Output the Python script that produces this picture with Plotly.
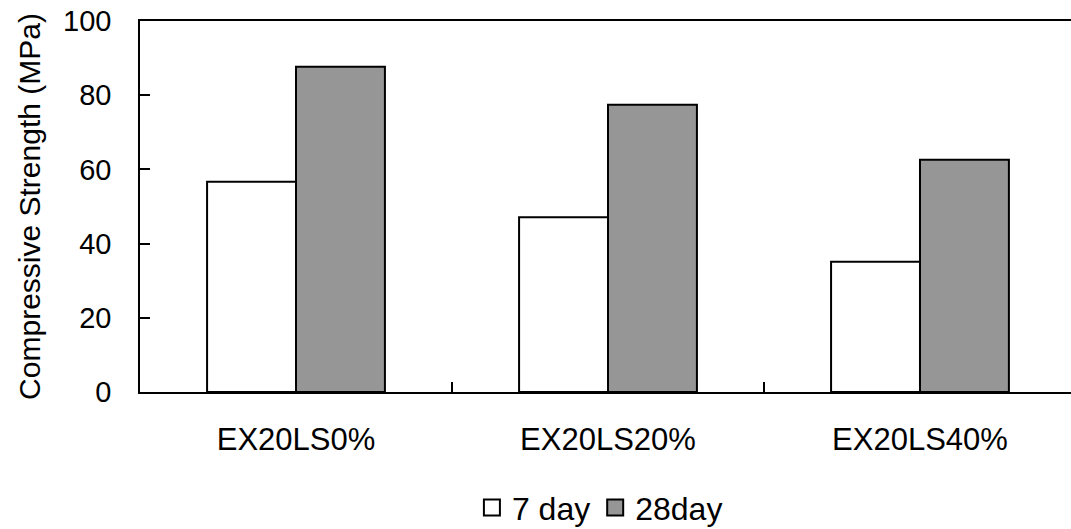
import plotly.graph_objects as go

# Compressive strength of the three mixes at two curing ages
mixes = ["EX20LS0%", "EX20LS20%", "EX20LS40%"]
day7 = [56.7, 47.1, 35.1]
day28 = [87.7, 77.4, 62.6]
series_names = ["7 day", "28day"]
series_fill = ["#ffffff", "#969696"]
y_ticks = [0, 20, 40, 60, 80, 100]

FONT = "Liberation Sans, Arial, sans-serif"

fig = go.Figure()
for name, vals, fill in zip(series_names, [day7, day28], series_fill):
    fig.add_trace(go.Bar(
        x=mixes, y=vals, name=name,
        marker=dict(color=fill, line=dict(color="black", width=2)),
        showlegend=False,
    ))

# Legend keys drawn as larger squares
for name, fill in zip(series_names, series_fill):
    fig.add_trace(go.Scatter(
        x=[None], y=[None], mode="markers", name=name,
        marker=dict(symbol="square", size=20, color=fill,
                    line=dict(color="black", width=2)),
    ))

fig.update_layout(
    width=1071, height=529,
    margin=dict(l=140, r=0, t=21, b=137, autoexpand=False),
    paper_bgcolor="white", plot_bgcolor="white",
    barmode="group", bargap=0.43, bargroupgap=0,
    font=dict(family=FONT, size=29, color="black"),
    legend=dict(
        orientation="h", x=0.494, xanchor="center", y=-0.312, yanchor="middle",
        font=dict(family=FONT, size=32, color="black"),
        itemwidth=30, traceorder="normal", bgcolor="rgba(0,0,0,0)",
    ),
)

fig.update_xaxes(
    type="category", range=[-0.5, 2.484],
    showline=True, linecolor="black", linewidth=1.5, mirror=True,
    ticks="inside", tickson="boundaries", ticklen=10, tickcolor="black", tickwidth=1.5,
    ticklabelstandoff=19,
    showgrid=False, zeroline=False,
    tickfont=dict(family=FONT, size=31, color="black"),
)
fig.update_yaxes(
    range=[0, 100], tickvals=y_ticks,
    showline=True, linecolor="black", linewidth=1.5,
    ticks="inside", ticklen=10, tickcolor="black", tickwidth=1.5,
    ticklabelstandoff=21,
    showgrid=False, zeroline=False,
    tickfont=dict(family=FONT, size=29, color="black"),
    title=dict(text="Compressive Strength (MPa)",
               font=dict(family=FONT, size=30, color="black"), standoff=14),
)

fig.write_html("out.html")
